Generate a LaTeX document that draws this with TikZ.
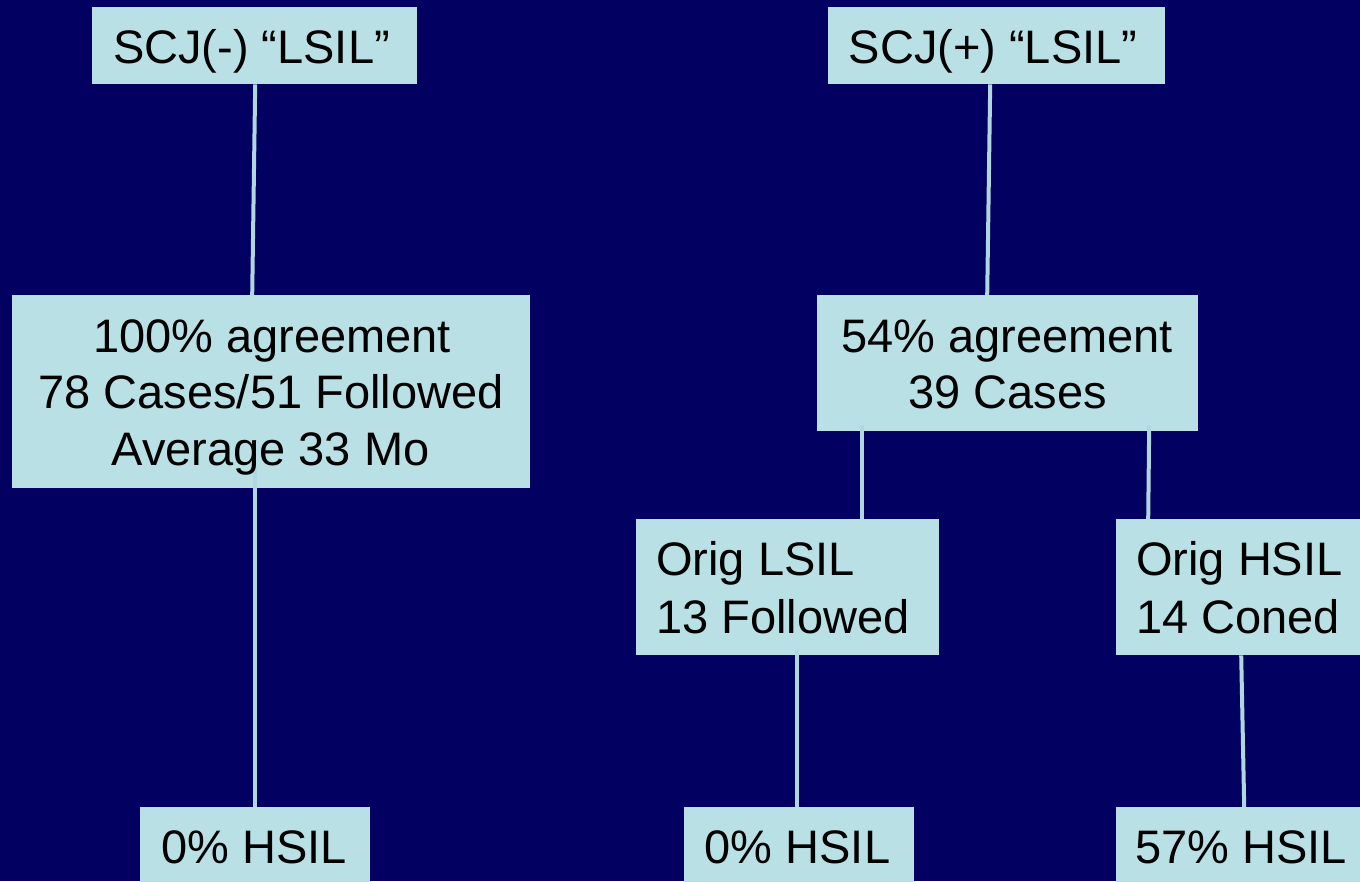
\documentclass[tikz,border=0pt]{standalone}
\usepackage{fontspec}
\setmainfont{Liberation Sans}
\definecolor{navy}{RGB}{2,0,96}
\definecolor{pale}{RGB}{185,224,228}
\definecolor{wire}{RGB}{176,214,224}
\begin{document}
\begin{tikzpicture}[x=1pt,y=-1pt,
  box/.style={fill=pale, draw=none, inner sep=0pt, anchor=north west},
  lbl/.style={inner sep=0pt, font=\fontsize{47}{56}\selectfont, text=black},
  link/.style={draw=wire, line width=4pt}]
\clip (0,0) rectangle (1360,881);
\fill[navy] (0,0) rectangle (1360,881);

% boxes
\node[box, minimum width=325pt, minimum height=77pt]  (a) at (92,7) {};
\node[box, minimum width=518pt, minimum height=193pt] (b) at (12,295) {};
\node[box, minimum width=337pt, minimum height=77pt]  (c) at (828,7) {};
\node[box, minimum width=381pt, minimum height=136pt] (d) at (817,295) {};
\node[box, minimum width=303pt, minimum height=136pt] (f) at (636,519) {};
\node[box, minimum width=300pt, minimum height=136pt] (g) at (1116,519) {};
\node[box, minimum width=230pt, minimum height=90pt]  (e) at (140,807) {};
\node[box, minimum width=230pt, minimum height=90pt]  (h) at (684,807) {};
\node[box, minimum width=300pt, minimum height=90pt]  (i) at (1116,807) {};

% connectors (some start a little inside the upper box)
\draw[link] ([xshift=0.5pt]a.south) -- ([xshift=-19pt]b.north);
\draw[link] ([xshift=-16pt,yshift=20pt]b.south) -- (e.north);
\draw[link] ([xshift=-6.5pt]c.south) -- ([xshift=-20.5pt]d.north);
\draw[link] ([xshift=-145.5pt,yshift=6pt]d.south) -- ([xshift=74.5pt]f.north);
\draw[link] ([xshift=141.5pt,yshift=6pt]d.south) -- ([xshift=-118pt]g.north);
\draw[link] ([xshift=9.5pt,yshift=5pt]f.south) -- ([xshift=-2pt]h.north);
\draw[link] ([xshift=-25pt]g.south) -- ([xshift=-22pt]i.north);

% labels
\node[lbl, anchor=base] (ta) at (251.5,63) {SCJ(-) “LSIL”};
\node[lbl, anchor=base] (tc) at (993,63) {SCJ(+) “LSIL”};
\node[lbl, anchor=base] (tb1) at (272,352) {100\% agreement};
\node[lbl, anchor=base] (tb2) at (271,408) {78 Cases/51 Followed};
\node[lbl, anchor=base] (tb3) at (270.5,465) {Average 33 Mo};
\node[lbl, anchor=base] (td1) at (1007,352) {54\% agreement};
\node[lbl, anchor=base] (td2) at (1007.5,408) {39 Cases};
\node[lbl, anchor=base west] (tf1) at (656,575) {Orig LSIL};
\node[lbl, anchor=base west] (tf2) at (656,633) {13 Followed};
\node[lbl, anchor=base west] (tg1) at (1136,575) {Orig HSIL};
\node[lbl, anchor=base west] (tg2) at (1136,633) {14 Coned};
\node[lbl, anchor=base] (te) at (254,863) {0\% HSIL};
\node[lbl, anchor=base] (th) at (797.5,863) {0\% HSIL};
\node[lbl, anchor=base west] (ti) at (1135,863) {57\% HSIL};
\end{tikzpicture}
\end{document}
